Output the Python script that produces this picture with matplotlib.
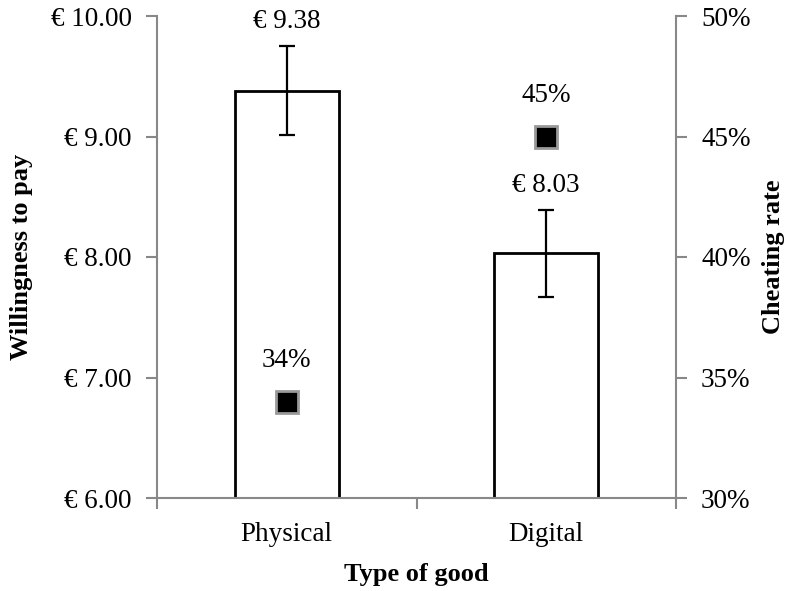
import matplotlib
matplotlib.use("Agg")
import matplotlib.pyplot as plt
import matplotlib.patheffects as pe

categories = ["Physical", "Digital"]
wtp = [9.38, 8.03]
wtp_err = [0.37, 0.36]
cheat = [34, 45]
wtp_labels = ["€ 9.38", "€ 8.03"]
cheat_labels = ["34%", "45%"]
left_ticks = [6, 7, 8, 9, 10]
right_ticks = [30, 35, 40, 45, 50]

plt.rcParams['font.family'] = ['Liberation Serif', 'DejaVu Serif']
AX = '#888888'
FS = 19.5
LFS = 19

fig = plt.figure(figsize=(7.91, 5.91), dpi=100)
ax = fig.add_axes([157/791, 1-498/591, (676-157)/791, (498-16)/591])
x = list(range(len(categories)))
bars = ax.bar(x, wtp, width=0.4, color='white', edgecolor='black', linewidth=2, zorder=2)
for b in bars:
    b.set_path_effects([pe.SimplePatchShadow(offset=(1.5, -1.5), shadow_rgbFace='#bbbbbb', alpha=0.6), pe.Normal()])
ax.errorbar(x, wtp, yerr=wtp_err, fmt='none', ecolor='black', elinewidth=1.6, capsize=6, capthick=1.6, zorder=3)
for xi, v, e, lab in zip(x, wtp, wtp_err, wtp_labels):
    ax.text(xi, v + e + 0.1, lab, ha='center', va='bottom', fontsize=FS)
ax.set_ylim(6, 10)
ax.set_xlim(-0.5, 1.5)
ax.set_yticks(left_ticks)
ax.set_yticklabels([f"€ {t:.2f}" for t in left_ticks])
ax.set_xticks(x)
ax.set_xticklabels(categories)
ax.set_xticks([-0.5, 0.5, 1.5], minor=True)
ax.tick_params(axis='x', which='major', length=0, labelsize=FS, pad=17)
ax.tick_params(axis='x', which='minor', length=8, color=AX, width=1.5, direction='out')
ax.tick_params(axis='y', length=8, color=AX, width=1.5, direction='out', labelsize=FS, pad=10)
for s in ['top', 'right']:
    ax.spines[s].set_visible(False)
for s in ['left', 'bottom']:
    ax.spines[s].set_color(AX)
    ax.spines[s].set_linewidth(1.5)
ax.set_xlabel("Type of good", fontsize=LFS, fontweight='bold', labelpad=12)
ax.set_ylabel("Willingness to pay", fontsize=LFS, fontweight='bold', labelpad=13)

ax2 = ax.twinx()
ax2.set_ylim(30, 50)
ax2.set_yticks(right_ticks)
ax2.set_yticklabels([f"{t}%" for t in right_ticks])
ax2.tick_params(axis='y', length=8, color=AX, width=1.5, direction='out', labelsize=FS, pad=10)
for s in ['top', 'left', 'bottom']:
    ax2.spines[s].set_visible(False)
ax2.spines['right'].set_color(AX)
ax2.spines['right'].set_linewidth(1.5)
ax2.plot(x, cheat, linestyle='none', marker='s', markersize=16, markerfacecolor='black',
         markeredgecolor='#999999', markeredgewidth=2, zorder=4)
for xi, v, lab in zip(x, cheat, cheat_labels):
    ax2.text(xi, v + 1.2, lab, ha='center', va='bottom', fontsize=FS)
ax2.set_ylabel("Cheating rate", fontsize=LFS, fontweight='bold', labelpad=8)

fig.savefig("out.png", dpi=100)
